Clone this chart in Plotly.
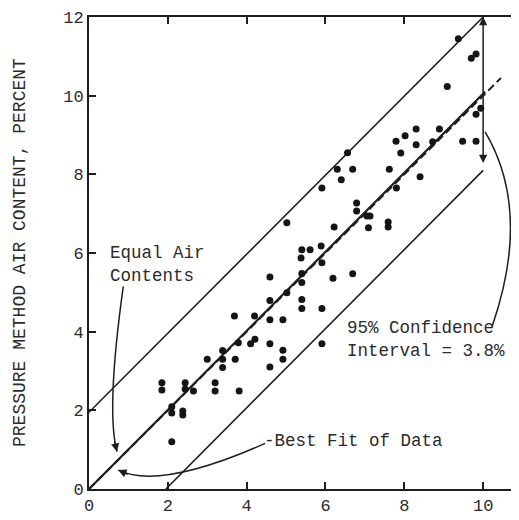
import plotly.graph_objects as go

# Measured data points (unit-weight vs pressure method air content, percent)
air_x = [1.85, 1.85, 2.44, 2.44, 2.65, 3.20, 3.20, 3.81, 2.10, 2.10, 2.38, 2.38, 2.10,
         3.00, 3.39, 3.39, 3.39, 3.71, 3.79, 4.10, 4.21, 3.69, 4.20, 4.59, 4.92, 4.59,
         4.92, 4.92, 4.59, 4.59, 4.59, 5.02, 5.40, 5.40, 5.40, 5.40, 5.91, 5.91, 5.91,
         6.19, 6.69, 5.40, 5.61, 5.89, 5.38, 5.02, 6.22, 6.79, 6.79, 7.05, 7.13, 7.09,
         7.59, 7.59, 6.30, 6.69, 6.40, 7.62, 8.40, 5.91, 7.80, 6.56, 7.91, 7.79, 8.02,
         8.30, 8.30, 8.72, 8.89, 9.48, 9.82, 9.82, 9.94, 9.09, 9.70, 9.82, 9.37]
air_y = [2.70, 2.52, 2.70, 2.54, 2.49, 2.70, 2.49, 2.49, 2.09, 1.93, 1.98, 1.88, 1.20,
         3.30, 3.52, 3.30, 3.09, 3.30, 3.72, 3.69, 3.81, 4.40, 4.40, 4.30, 4.30, 3.69,
         3.53, 3.30, 3.10, 5.39, 4.79, 4.99, 5.48, 5.25, 4.82, 4.59, 4.59, 3.69, 5.75,
         5.36, 5.47, 6.08, 6.08, 6.18, 5.87, 6.77, 6.66, 7.27, 7.07, 6.94, 6.94, 6.64,
         6.79, 6.66, 8.13, 8.13, 7.86, 8.13, 7.94, 7.65, 7.65, 8.55, 8.54, 8.84, 8.98,
         9.15, 8.75, 8.83, 9.15, 8.84, 8.84, 9.53, 9.68, 10.23, 10.95, 11.06, 11.45]

# Reference lines
equal_x = [0, 10.45]
equal_y = [0, 10.45]
best_fit_x = [0, 10.05]
best_fit_y = [0, 10.10]
upper_x = [0, 10.0]
upper_y = [1.95, 12.0]
lower_x = [1.95, 10.0]
lower_y = [0, 8.10]

x_ticks = [0, 2, 4, 6, 8, 10]
y_ticks = [0, 2, 4, 6, 8, 10, 12]

FONT = "Liberation Mono, Courier New, monospace"
INK = "#1e1e1e"
TXT = "#2b2b2b"

fig = go.Figure()

line_style = dict(color=INK, width=1.6)
fig.add_trace(go.Scatter(x=upper_x, y=upper_y, mode="lines", line=line_style, hoverinfo="skip"))
fig.add_trace(go.Scatter(x=lower_x, y=lower_y, mode="lines", line=line_style, hoverinfo="skip"))
fig.add_trace(go.Scatter(x=equal_x, y=equal_y, mode="lines",
                         line=dict(color=INK, width=2, dash="8px,4px"), hoverinfo="skip"))
fig.add_trace(go.Scatter(x=best_fit_x, y=best_fit_y, mode="lines",
                         line=dict(color=INK, width=2.2), hoverinfo="skip"))
fig.add_trace(go.Scatter(x=air_x, y=air_y, mode="markers",
                         marker=dict(size=7, color="#151515"), hoverinfo="skip"))

# Curved leader lines
curve = dict(color=INK, width=1.5)
fig.add_shape(type="path", xref="x", yref="y", line=curve,
              path="M 0.87,5.15 Q 0.43,1.99 0.71,0.95")
fig.add_shape(type="path", xref="x", yref="y", line=curve,
              path="M 4.47,1.16 Q 1.80,-0.03 0.74,0.48")
fig.add_shape(type="path", xref="x", yref="y", line=curve,
              path="M 10.05,9.08 Q 11.24,7.07 10.23,4.14")

arrow = dict(showarrow=True, arrowhead=2, arrowsize=1.1, arrowwidth=1.5,
             arrowcolor=INK, axref="x", ayref="y", xref="x", yref="y", text="")
# vertical double arrow (confidence interval)
fig.add_annotation(x=10.0, y=12.0, ax=10.0, ay=8.25, arrowside="end+start", **arrow)
# arrowheads on curved leaders
fig.add_annotation(x=0.71, y=0.95, ax=0.64, ay=1.25, **arrow)
fig.add_annotation(x=0.74, y=0.48, ax=1.02, ay=0.36, **arrow)

txt_font = dict(family=FONT, size=17.5, color=TXT)
fig.add_annotation(x=0.48, y=5.70, xref="x", yref="y", text="Equal Air<br>Contents",
                   showarrow=False, xanchor="left", yanchor="middle", align="left", font=txt_font)
fig.add_annotation(x=4.39, y=1.22, xref="x", yref="y", text="-Best Fit of Data",
                   showarrow=False, xanchor="left", yanchor="middle", align="left", font=txt_font)
fig.add_annotation(x=6.50, y=3.79, xref="x", yref="y", text="95% Confidence<br>Interval = 3.8%",
                   showarrow=False, xanchor="left", yanchor="middle", align="left", font=txt_font)

# Y-axis title as rotated text
fig.add_annotation(x=-69 / 430, y=0.5, xref="paper", yref="paper",
                   text="PRESSURE METHOD AIR CONTENT, PERCENT", textangle=-90,
                   showarrow=False, xanchor="center", yanchor="middle",
                   font=dict(family=FONT, size=18, color=TXT))

axis_common = dict(showgrid=False, zeroline=False, showline=True, linecolor=INK, linewidth=2,
                   mirror="ticks", ticks="inside", ticklen=7, tickwidth=1.5, tickcolor=INK,
                   automargin=False,
                   tickfont=dict(family=FONT, size=17, color=TXT))

# the page body adds an 8px offset, so the figure is sized to fill the rest of the window
fig.update_layout(
    width=511, height=512,
    margin=dict(l=81, r=0, t=9, b=31),
    paper_bgcolor="white", plot_bgcolor="white",
    showlegend=False,
    xaxis=dict(range=[0, 10.91], tickvals=x_ticks, **axis_common),
    yaxis=dict(range=[0, 12], tickvals=y_ticks, **axis_common),
)

fig.write_html("out.html")
